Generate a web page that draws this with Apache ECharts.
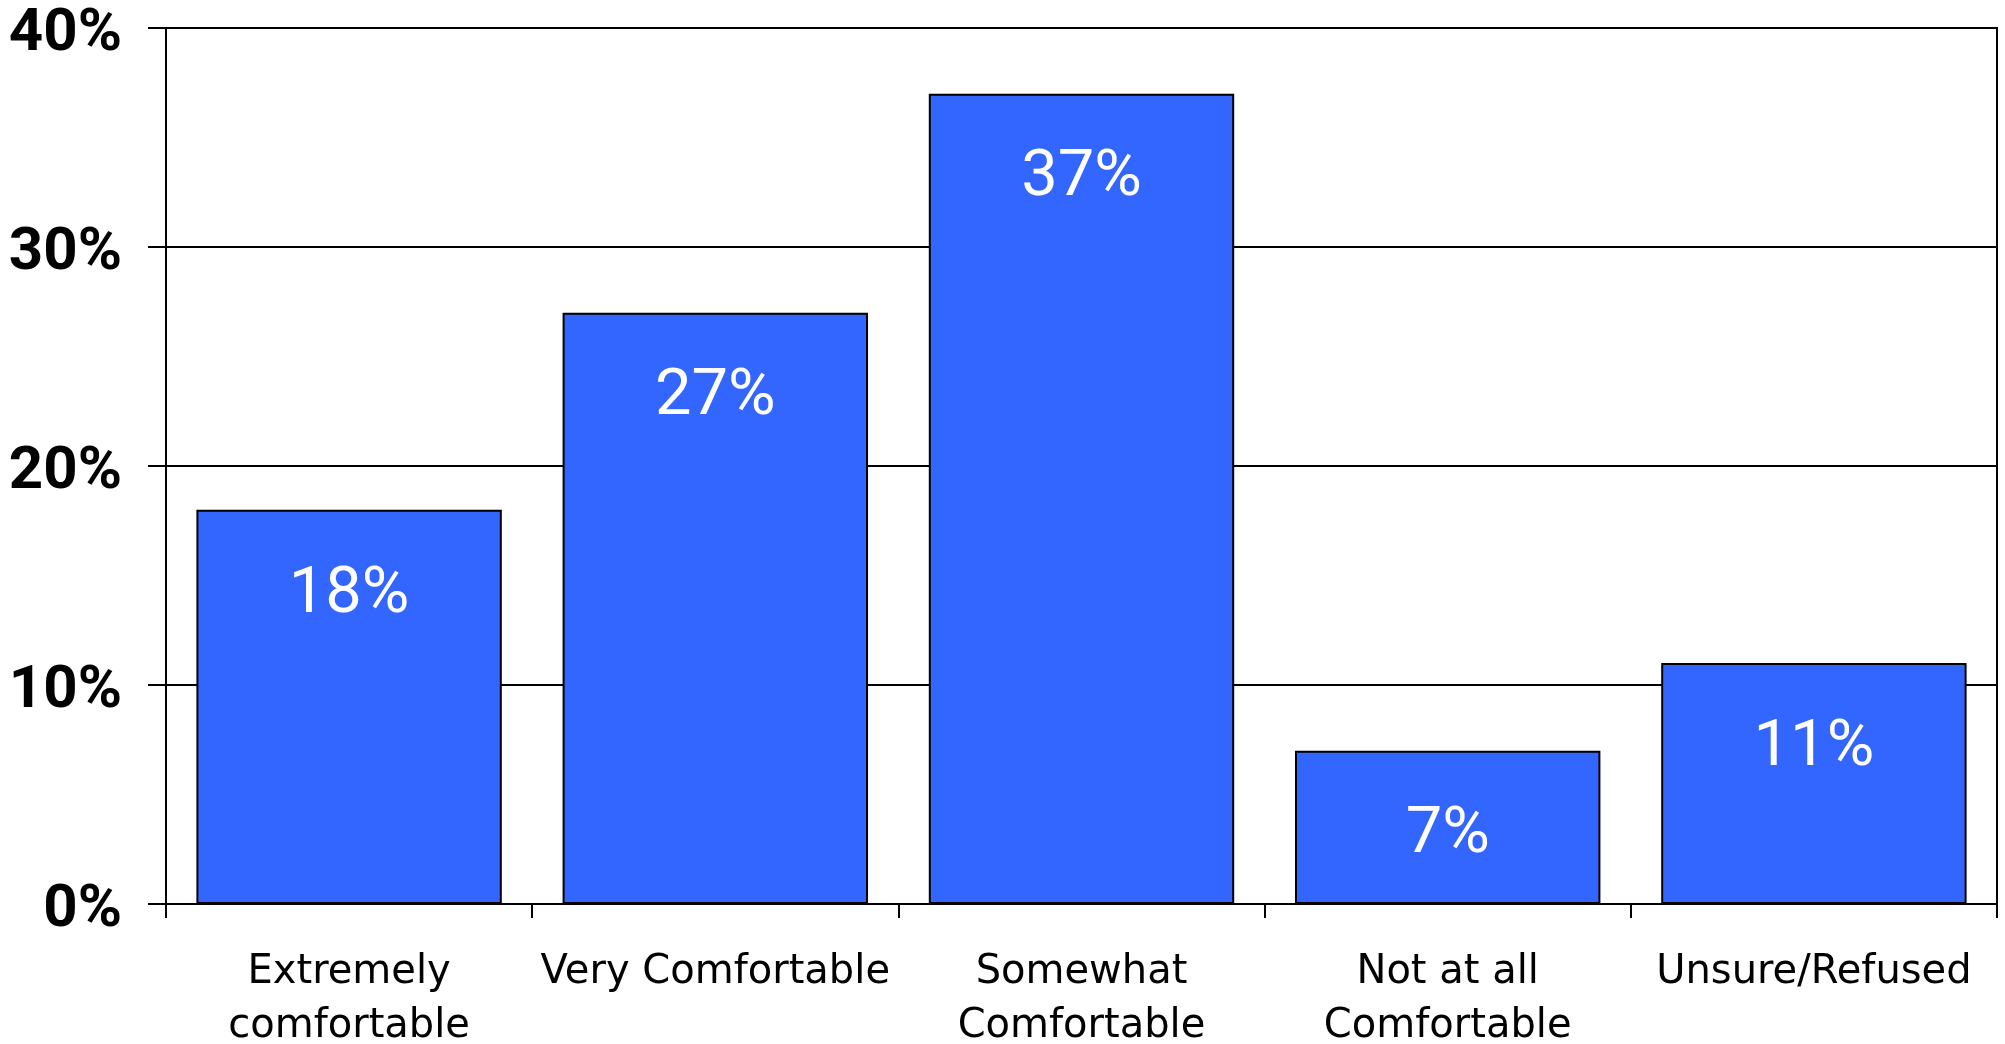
<!DOCTYPE html>
<html>
<head>
<meta charset="utf-8">
<script src="https://cdn.jsdelivr.net/npm/echarts@6/dist/echarts.min.js"></script>
<style>
  html, body { margin: 0; padding: 0; background: #ffffff; }
  #chart { width: 2005px; height: 1044px; }
</style>
</head>
<body>
<div id="chart"></div>
<script>
const categories = [
  'Extremely\ncomfortable',
  'Very Comfortable',
  'Somewhat\nComfortable',
  'Not at all\nComfortable',
  'Unsure/Refused'
];
const values = [18, 27, 37, 7, 11];
const yTicks = [0, 10, 20, 30, 40];

const chart = echarts.init(document.getElementById('chart'), null, { renderer: 'canvas' });
chart.setOption({
  animation: false,
  backgroundColor: '#ffffff',
  grid: {
    left: 166, right: 8, top: 28, bottom: 140,
    containLabel: false, outerBoundsMode: 'none',
    show: true, borderColor: '#000000', borderWidth: 2, backgroundColor: 'transparent'
  },
  xAxis: {
    type: 'category',
    data: categories,
    axisLine: { show: true, lineStyle: { color: '#000000', width: 2 } },
    axisTick: { show: true, alignWithLabel: false, length: 14, lineStyle: { color: '#000000', width: 2 } },
    axisLabel: {
      interval: 0, margin: 42, color: '#000000',
      fontFamily: 'DejaVu Sans', fontSize: 40, lineHeight: 54
    }
  },
  yAxis: {
    type: 'value',
    min: yTicks[0], max: yTicks[yTicks.length - 1], interval: 10,
    axisLine: { show: true, lineStyle: { color: '#000000', width: 2 } },
    axisTick: { show: true, length: 18, lineStyle: { color: '#000000', width: 2 } },
    splitLine: { show: true, lineStyle: { color: '#000000', width: 2 } },
    axisLabel: {
      margin: 44, color: '#000000', formatter: '{value}%',
      fontFamily: 'Roboto', fontWeight: 'bold', fontSize: 60,
      verticalAlign: 'top', lineHeight: 13
    }
  },
  series: [{
    type: 'bar',
    data: values,
    barCategoryGap: '16.6%',
    itemStyle: { color: '#3366FF', borderColor: '#000000', borderWidth: 2 },
    label: {
      show: true, position: 'insideTop', distance: 53,
      formatter: '{c}%', color: '#ffffff',
      fontFamily: 'Roboto', fontSize: 65, lineHeight: 65
    }
  }]
});
</script>
</body>
</html>
